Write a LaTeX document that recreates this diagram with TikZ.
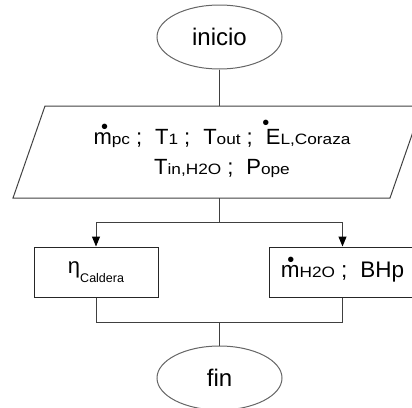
\documentclass[tikz,border=0pt]{standalone}
\usepackage{fontspec}
\setmainfont{Liberation Sans}
\newfontfamily\subfont[FakeStretch=1.15]{Liberation Sans}
\usetikzlibrary{shapes.geometric,arrows.meta}
\newcommand\subt[1]{{\subfont\fontsize{15}{15}\selectfont #1}}
\newcommand\dotover[3]{\makebox[0pt][l]{\hspace{#1}\raisebox{#2}[0pt][0pt]{\makebox[0pt]{\fontsize{20}{20}\selectfont •}}}#3}
\newcommand\sepa{\hspace{6pt};\hspace{13pt}}
\begin{document}
\begin{tikzpicture}[x=1pt,y=-1pt,line width=1pt,
  term/.style={ellipse,draw=black!60,minimum width=125pt,minimum height=64pt,inner sep=0pt,font=\fontsize{24}{28}\selectfont},
  procbox/.style={rectangle,draw=black!85,minimum height=50pt,inner sep=0pt},
  conn/.style={draw=black!75},
  arr/.style={conn,-{Triangle[length=10pt,width=8pt,fill=black,color=black]}}]
\useasboundingbox (0,0) rectangle (412,407);
\clip (0,0) rectangle (412,407);
\node[term] (ini) at (219.5,37) {inicio};
\draw[conn] (13,198) -- (45,106) -- (422,106) -- (390,198) -- cycle;
\coordinate (din) at (219.5,106);
\coordinate (dout) at (219.5,198);
\node[align=center,font=\fontsize{22}{30}\selectfont] (datos) at (222,153)
  {\dotover{11pt}{10.5pt}{m}\subt{pc}\sepa T\subt{1}\sepa T\subt{out}\sepa\dotover{0pt}{14.5pt}{E}\subt{L,Coraza}\\
   T\subt{in,H2O}\sepa P\subt{ope}};
\node[procbox,minimum width=124pt] (eta) at (96,272)
  {{\fontsize{22}{22}\selectfont η}\raisebox{-9pt}{\fontsize{12.5}{12.5}\selectfont Caldera}};
\node[procbox,minimum width=147pt,font=\fontsize{22.5}{26}\selectfont] (mh) at (342.5,272)
  {\dotover{10pt}{11pt}{m}\subt{H2O}\sepa BHp};
\node[term] (fin) at (219.5,378) {fin};
\coordinate (split) at (219.5,222);
\coordinate (join) at (219.5,322);
\draw[conn] (ini.south) -- (din);
\draw[conn] (dout) -- (split);
\draw[arr] (split) -| (eta.north);
\draw[arr] (split) -| (mh.north);
\draw[conn] (eta.south) |- (join);
\draw[conn] (mh.south) |- (join);
\draw[conn] (join) -- (fin.north);
\end{tikzpicture}
\end{document}
